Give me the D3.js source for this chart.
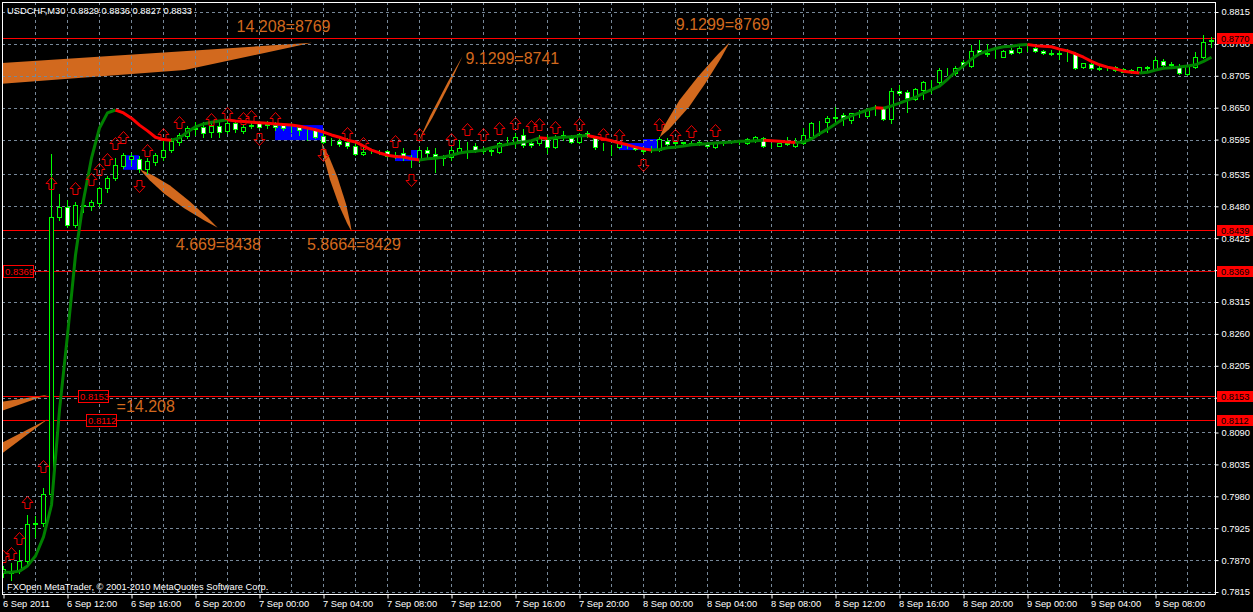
<!DOCTYPE html>
<html><head><meta charset="utf-8">
<script src="https://cdn.jsdelivr.net/npm/d3@7"></script>
<style>
html,body{margin:0;padding:0;background:#000;}
svg{display:block;}
text{font-family:"Liberation Sans",Arial,sans-serif;}
</style></head><body>
<svg id="chart" width="1253" height="612"></svg>
<script>
// ---------------- DATA ----------------
const chartTitle = "USDCHF,M30  0.8829 0.8836 0.8827 0.8833";
const copyright = "FXOpen MetaTrader, \u00A9 2001-2010 MetaQuotes Software Corp.";
const timeLabels = ["6 Sep 2011","6 Sep 12:00","6 Sep 16:00","6 Sep 20:00","7 Sep 00:00","7 Sep 04:00","7 Sep 08:00","7 Sep 12:00","7 Sep 16:00","7 Sep 20:00","8 Sep 00:00","8 Sep 04:00","8 Sep 08:00","8 Sep 12:00","8 Sep 16:00","8 Sep 20:00","9 Sep 00:00","9 Sep 04:00","9 Sep 08:00"];
const timeLabelBars = [0,8,16,24,32,40,48,56,64,72,80,88,96,104,112,120,128,136,144];
const priceTicks = ["0.8815","0.8760","0.8705","0.8650","0.8595","0.8535","0.8480","0.8425","0.8370","0.8315","0.8260","0.8205","0.8150","0.8090","0.8035","0.7980","0.7925","0.7870","0.7815"];

// M30 bars, prices in units of 0.0001
const openP = [
7848,7848,7853,7868,7932,7934,7984,8462,8479,8448,
8481,8481,8486,8512,8529,8549,8562,8562,8544,8556,
8565,8577,8591,8601,8615,8617,8608,8618,8610,8624,
8610,8620,8624,8622,8620,8620,8617,8617,8612,8612,
8601,8593,8593,8591,8584,8570,8574,8574,8575,8568,
8572,8563,8560,8577,8570,8565,8565,8574,8581,8584,
8577,8577,8574,8591,8589,8603,8589,8589,8596,8582,
8599,8598,8591,8606,8598,8582,8582,8582,8582,8582,
8577,8577,8577,8593,8589,8589,8589,8587,8589,8582,
8589,8591,8591,8589,8593,8598,8586,8584,8589,8584,
8589,8599,8624,8625,8634,8637,8629,8641,8636,8648,
8649,8631,8679,8677,8665,8681,8693,8694,8712,8710,
8729,8722,8749,8744,8743,8737,8749,8746,8755,8753,
8748,8744,8744,8744,8744,8720,8725,8718,8718,8720,
8712,8715,8712,8720,8717,8731,8725,8720,8708,8720,
8737,8765];
const highP = [
7860,7865,7887,7948,7946,7994,8570,8501,8491,8487,
8486,8491,8513,8532,8563,8572,8572,8567,8563,8572,
8594,8598,8606,8618,8625,8625,8624,8625,8629,8629,
8620,8624,8627,8627,8625,8624,8624,8620,8617,8615,
8606,8598,8598,8598,8589,8582,8577,8577,8577,8574,
8581,8568,8582,8582,8581,8568,8582,8594,8591,8589,
8582,8582,8591,8599,8606,8613,8591,8603,8603,8603,
8610,8603,8606,8610,8599,8589,8586,8591,8586,8584,
8582,8584,8599,8598,8591,8591,8593,8593,8591,8591,
8593,8593,8593,8598,8601,8599,8589,8589,8599,8598,
8615,8625,8627,8636,8651,8641,8641,8646,8649,8655,
8651,8684,8689,8681,8684,8696,8698,8718,8718,8722,
8732,8758,8767,8760,8749,8749,8753,8756,8758,8756,
8749,8749,8753,8751,8746,8727,8729,8722,8722,8722,
8718,8717,8720,8722,8737,8734,8729,8725,8724,8746,
8775,8772];
const lowP = [
7841,7836,7848,7862,7910,7929,7975,8456,8444,8444,
8470,8474,8481,8505,8525,8546,8551,8539,8537,8551,
8560,8574,8586,8598,8603,8599,8599,8599,8606,8608,
8606,8615,8615,8615,8612,8612,8608,8603,8594,8598,
8589,8586,8584,8581,8568,8568,8572,8570,8565,8563,
8560,8548,8556,8565,8539,8551,8560,8572,8563,8574,
8572,8568,8572,8586,8582,8582,8582,8586,8572,8581,
8594,8589,8589,8599,8579,8577,8568,8581,8581,8577,
8572,8574,8575,8586,8586,8587,8587,8586,8582,8581,
8586,8589,8587,8587,8591,8582,8582,8584,8586,8582,
8587,8598,8603,8608,8624,8620,8624,8634,8634,8637,
8629,8624,8672,8643,8663,8665,8675,8689,8706,8706,
8720,8720,8743,8739,8736,8737,8743,8744,8748,8746,
8743,8741,8734,8731,8717,8718,8717,8715,8715,8713,
8712,8710,8712,8713,8715,8720,8720,8708,8706,8718,
8736,8755];
const closeP = [
7855,7851,7868,7932,7934,7984,8462,8479,8448,8482,
8482,8487,8512,8529,8551,8568,8567,8544,8558,8568,
8577,8593,8603,8615,8613,8606,8618,8608,8624,8613,
8617,8619,8617,8621,8617,8615,8616,8612,8611,8599,
8591,8592,8587,8584,8570,8574,8573,8573,8567,8567,
8565,8562,8577,8572,8567,8564,8577,8581,8580,8575,
8576,8576,8589,8590,8599,8586,8586,8599,8582,8596,
8603,8591,8605,8601,8582,8583,8583,8589,8583,8579,
8576,8578,8596,8587,8590,8590,8588,8591,8584,8589,
8590,8590,8590,8596,8599,8584,8585,8589,8588,8591,
8603,8624,8623,8632,8633,8632,8641,8640,8646,8647,
8631,8679,8675,8667,8682,8694,8692,8715,8711,8718,
8724,8748,8744,8743,8742,8748,8744,8753,8754,8748,
8744,8743,8743,8745,8718,8727,8718,8717,8719,8715,
8717,8712,8720,8719,8732,8724,8724,8710,8722,8737,
8763,8766];
// moving average, same units
const maP = [
7849,7849,7851,7860,7877,7910,7965,8129,8258,8396,
8491,8563,8615,8641,8646,8641,8632,8620,8610,8599,
8595,8594,8598,8608,8617,8622,8625,8627,8629,8627,
8626,8625,8624,8623,8622,8621,8620,8618,8615,8612,
8608,8603,8599,8594,8591,8584,8577,8572,8568,8566,
8565,8562,8560,8562,8563,8565,8568,8572,8574,8575,
8577,8581,8584,8587,8589,8591,8593,8598,8597,8598,
8599,8600,8601,8602,8599,8596,8593,8589,8586,8582,
8579,8577,8578,8581,8582,8584,8586,8587,8588,8589,
8590,8591,8592,8592,8593,8594,8593,8592,8591,8590,
8591,8596,8605,8613,8622,8631,8636,8641,8646,8650,
8649,8653,8658,8663,8668,8675,8681,8687,8699,8712,
8722,8734,8743,8748,8752,8755,8756,8758,8759,8757,
8756,8755,8751,8748,8743,8737,8730,8724,8720,8717,
8713,8711,8710,8711,8715,8718,8719,8720,8722,8724,
8730,8737];

// signal arrows
const upArrowBars = [0,1,2,3,5,6,9,11,12,13,14,15,18,20,22,26,28,30,31,34,43,45,49,52,56,58,60,62,64,66,67,69,72,75,77,82,84,86,89];
const upArrowP = [7887,7893,7918,7981,8043,8531,8522,8537,8555,8572,8599,8610,8587,8615,8636,8641,8651,8643,8646,8643,8617,8599,8603,8615,8606,8624,8615,8625,8634,8629,8632,8627,8632,8615,8613,8632,8613,8620,8622];
const downArrowBars = [17,32,40,51,80];
const downArrowP = [8525,8606,8579,8536,8562];

// blue zones
const zoneStart = [15,34,49,51,77,80];
const zoneEnd = [17,40,51.1,52,80,82];
const zoneTop = [8568,8620,8568,8577,8589,8596];
const zoneBottom = [8543,8594,8558,8558,8577,8577];

// horizontal line objects
const hLineValues = [0.8770,0.8439,0.8369,0.8153,0.8112];
const leftLabelValues = [0.8369,0.8153,0.8112];
const leftLabelBars = [0.03,9.35,10.35];

// orange wedge objects (bar position, price units 0.0001)
const wedgeBars = [
 [-0.2,38.59,22.71,-0.2],
 [17.09,18.78,20.88,23.28,25.53,26.84,25.23,22.60,20.13,18.33],
 [39.84,40.70,41.81,42.88,43.39,43.59,43.04,42.05,40.86,40.10],
 [51.84,53.69,55.91,57.46,55.64,53.36],
 [82.09,83.26,85.75,87.84,89.78,90.84,89.28,86.84,84.55,82.66],
 [-0.2,5.59,-0.2],
 [-0.2,5.59,-0.2]];
const wedgeP = [
 [8727,8762,8715,8691],
 [8544,8533,8516,8489,8461,8443,8455,8477,8502,8525],
 [8589,8567,8530,8484,8452,8436,8450,8480,8526,8565],
 [8589,8633,8693,8739,8695,8635],
 [8599,8613,8651,8693,8736,8763,8741,8703,8663,8619],
 [8143,8155,8127],
 [8072,8113,8053]];

// orange annotation texts
const annoTexts = ["14.208=8769","9.1299=8741","9.1299=8769","4.669=8438","5.8664=8429","=14.208"];
const annoBars = [29.2,57.8,84.1,21.6,38.0,14.2];
const annoP = [8781,8725,8784,8405,8405,8125];

// ---------------- DRAW ----------------
const W = 1253, H = 612;
const P = {left:2, top:2, right:1215, bottom:594};
const ORANGE = "#D2691E", GRID = "#778899", LIME = "#00ff00";
const svg = d3.select("#chart");
svg.append("rect").attr("width",W).attr("height",H).attr("fill","#000");

const x = d3.scaleLinear().domain([0,151]).range([3,1211]);
const y = d3.scaleLinear().domain([0.7815,0.8815]).range([592,12]);
const yp = v => y(v/10000);
const crisp = v => Math.round(v)+0.5;

svg.append("defs").append("clipPath").attr("id","clip")
  .append("rect").attr("x",P.left).attr("y",P.top)
  .attr("width",P.right-P.left).attr("height",P.bottom-P.top);
const plot = svg.append("g").attr("clip-path","url(#clip)");

// wedges
plot.append("g").selectAll("polygon").data(wedgeBars).join("polygon")
  .attr("points",(b,k)=>b.map((bb,j)=>[x(bb),yp(wedgeP[k][j])].join(",")).join(" "))
  .attr("fill",ORANGE);

// blue zones
plot.append("g").selectAll("rect").data(zoneStart).join("rect")
  .attr("x",(d,i)=>x(d)).attr("width",(d,i)=>x(zoneEnd[i])-x(d))
  .attr("y",(d,i)=>yp(zoneTop[i])).attr("height",(d,i)=>yp(zoneBottom[i])-yp(zoneTop[i]))
  .attr("fill","#0000ff");

// grid
const tickVals = priceTicks.map(Number);
plot.append("g").selectAll("line").data(tickVals).join("line")
  .attr("x1",P.left).attr("x2",P.right).attr("y1",d=>crisp(y(d))).attr("y2",d=>crisp(y(d)))
  .attr("stroke",GRID).attr("stroke-dasharray","3,3");
const vBars = d3.range(4,151,4);
plot.append("g").selectAll("line").data(vBars).join("line")
  .attr("x1",d=>x(d)+0.5).attr("x2",d=>x(d)+0.5).attr("y1",P.top).attr("y2",P.bottom)
  .attr("stroke",GRID).attr("stroke-dasharray","3,3");

// horizontal line objects
plot.append("g").selectAll("line").data(hLineValues).join("line")
  .attr("x1",P.left).attr("x2",P.right).attr("y1",d=>crisp(y(d))).attr("y2",d=>crisp(y(d)))
  .attr("stroke",(d)=>d===0.8369?"#e00000":"#ff0000");

// candles
const idx = d3.range(openP.length);
const gc = plot.append("g");
gc.selectAll("line").data(idx).join("line")
  .attr("x1",i=>x(i)+0.5).attr("x2",i=>x(i)+0.5)
  .attr("y1",i=>Math.round(yp(highP[i]))).attr("y2",i=>Math.round(yp(lowP[i]))+1)
  .attr("stroke",LIME);
gc.selectAll("rect").data(idx).join("rect")
  .attr("x",i=>x(i)-2+0.5).attr("width",4)
  .attr("y",i=>crisp(yp(Math.max(openP[i],closeP[i]))))
  .attr("height",i=>Math.max(0,Math.round(yp(Math.min(openP[i],closeP[i])))-Math.round(yp(Math.max(openP[i],closeP[i])))))
  .attr("fill",i=>closeP[i]<openP[i]?"#ffffff":"#000000")
  .attr("stroke",LIME);

// moving average, coloured by direction
const runs = [];
for (let i=0;i<maP.length-1;i++){
  const col = maP[i+1]>=maP[i] ? "#008000" : "#ff0000";
  if (runs.length && runs[runs.length-1].col===col) runs[runs.length-1].pts.push(i+1);
  else runs.push({col, pts:[i,i+1]});
}
const line = d3.line().x(i=>x(i)+0.5).y(i=>yp(maP[i]));
plot.append("g").selectAll("path").data(runs).join("path")
  .attr("d",r=>line(r.pts)).attr("fill","none").attr("stroke",r=>r.col)
  .attr("stroke-width",3).attr("stroke-linejoin","round");

// arrows
const upShape = [[0,0],[5.5,6],[2.5,6],[2.5,12],[-2.5,12],[-2.5,6],[-5.5,6]];
const downShape = [[-2.5,0],[2.5,0],[2.5,6],[5.5,6],[0,12],[-5.5,6],[-2.5,6]];
plot.append("g").selectAll("polygon").data(upArrowBars).join("polygon")
  .attr("points",(b,i)=>upShape.map(p=>[x(b)+0.5+p[0],Math.round(yp(upArrowP[i]))+0.5+p[1]].join(",")).join(" "))
  .attr("fill","none").attr("stroke","#ee0000");
plot.append("g").selectAll("polygon").data(downArrowBars).join("polygon")
  .attr("points",(b,i)=>downShape.map(p=>[x(b)+0.5+p[0],Math.round(yp(downArrowP[i]))+0.5+p[1]].join(",")).join(" "))
  .attr("fill","none").attr("stroke","#ee0000");

// orange annotations
plot.append("g").selectAll("text").data(annoTexts).join("text")
  .attr("x",(d,i)=>x(annoBars[i])).attr("y",(d,i)=>yp(annoP[i]))
  .attr("fill",ORANGE).style("font-size","16px").text(d=>d);

// left labels of line objects
const gl = plot.append("g");
gl.selectAll("rect").data(leftLabelValues).join("rect")
  .attr("x",(d,i)=>Math.round(x(leftLabelBars[i]))+0.5).attr("y",d=>Math.round(y(d))-6+0.5)
  .attr("width",30).attr("height",12).attr("fill","#000").attr("stroke","#ff0000");
gl.selectAll("text").data(leftLabelValues).join("text")
  .attr("x",(d,i)=>Math.round(x(leftLabelBars[i]))+2).attr("y",d=>Math.round(y(d))+4)
  .attr("fill","#ff0000").style("font-size","9.5px").text(d=>d3.format(".4f")(d));

// title & copyright
svg.append("text").attr("x",7).attr("y",14).attr("fill","#fff").style("font-size","9.3px")
  .style("white-space","pre").attr("xml:space","preserve").text(chartTitle);
svg.append("text").attr("x",7).attr("y",590).attr("fill","#fff").style("font-size","9.3px").text(copyright);

// frame
svg.append("rect").attr("x",P.left+0.5).attr("y",P.top+0.5)
  .attr("width",P.right-P.left).attr("height",P.bottom-P.top)
  .attr("fill","none").attr("stroke","#fff");

// axes
const yAxis = d3.axisRight(y).tickValues(tickVals).tickFormat(d3.format(".4f")).tickSize(3).tickPadding(3);
const gy = svg.append("g").attr("transform",`translate(${P.right+0.5},0)`).call(yAxis);
gy.select(".domain").remove();
gy.selectAll("line").attr("stroke","#fff");
gy.selectAll("text").attr("fill","#fff").style("font-size","9.3px").style("font-family","Liberation Sans, Arial, sans-serif");

const xAxis = d3.axisBottom(x).tickValues(timeLabelBars).tickFormat((d,i)=>timeLabels[i]).tickSize(4).tickPadding(2);
const gx = svg.append("g").attr("transform",`translate(0.5,${P.bottom+0.5})`).call(xAxis);
gx.select(".domain").remove();
gx.selectAll("line").attr("stroke","#fff");
gx.selectAll("text").attr("fill","#fff").attr("text-anchor","start").attr("dx",-1)
  .style("font-size","9.3px").style("font-family","Liberation Sans, Arial, sans-serif");

// right-side price boxes of the line objects
const gr = svg.append("g");
gr.selectAll("rect").data(hLineValues).join("rect")
  .attr("x",1217).attr("y",d=>Math.round(y(d))-5).attr("width",36).attr("height",11)
  .attr("fill","#ff0000");
gr.selectAll("text").data(hLineValues).join("text")
  .attr("x",1221).attr("y",d=>Math.round(y(d))+4)
  .attr("fill","#000").style("font-size","9.3px").text(d=>d3.format(".4f")(d));
</script>
</body></html>
